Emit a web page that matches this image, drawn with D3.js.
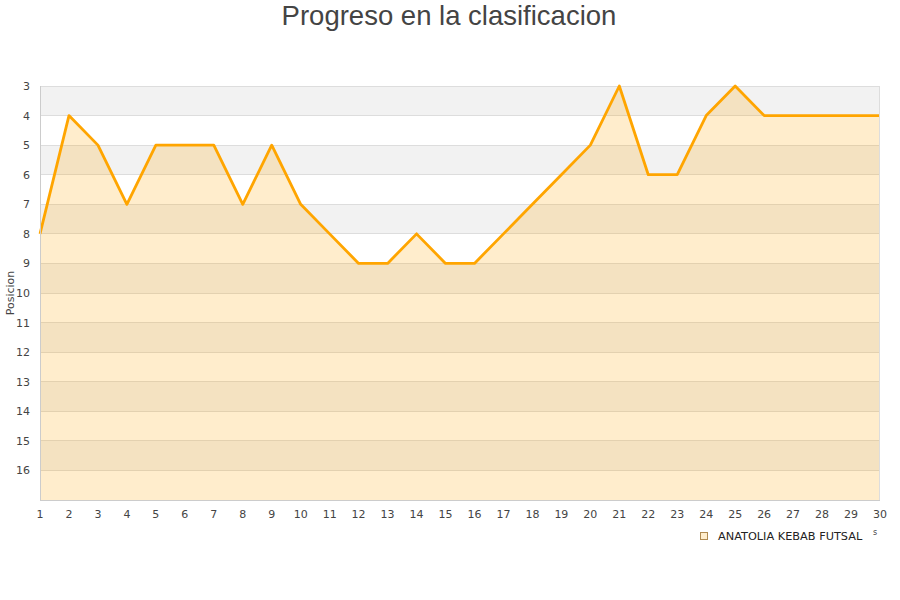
<!DOCTYPE html>
<html><head><meta charset="utf-8">
<script src="https://cdn.jsdelivr.net/npm/d3@7"></script>
<style>body{margin:0;background:#fff}svg{display:block}</style>
</head><body>
<svg id="c" width="900" height="600"></svg>
<script>
const jornadas = d3.range(1, 31);
const posiciones = [8,4,5,7,5,5,5,7,5,7,8,9,9,8,9,9,8,7,6,5,3,6,6,4,3,4,4,4,4,4];
const yTicks = d3.range(3, 17);
const seriesName = "ANATOLIA KEBAB FUTSAL";
const title = "Progreso en la clasificacion";
const yLabel = "Posicion";

const svg = d3.select("#c");
const m = {l:40, r:880, t:86, b:500};
const x = d3.scaleLinear().domain([1,30]).range([m.l, m.r]);
const y = d3.scaleLinear().domain([3,17]).range([m.t, m.b]);

// bands
const bands = d3.range(3, 17);
svg.append("g").selectAll("rect").data(bands).join("rect")
  .attr("x", m.l).attr("width", m.r-m.l)
  .attr("y", d=>y(d)).attr("height", d=>y(d+1)-y(d))
  .attr("fill", d=> (d-3)%2===0 ? "#f2f2f2" : "#ffffff");
// grid
svg.append("g").selectAll("line").data(d3.range(3,18)).join("line")
  .attr("x1", m.l).attr("x2", m.r).attr("y1", d=>y(d)).attr("y2", d=>y(d))
  .attr("stroke", "#dddddd").attr("stroke-width", 1).attr("shape-rendering","crispEdges");

// area
const pts = jornadas.map((j,i)=>[j, posiciones[i]]);
svg.append("path").datum(pts)
  .attr("d", d3.area().x(d=>x(d[0])).y0(y(17)).y1(d=>y(d[1])))
  .attr("fill", "rgba(255,165,0,0.2)");
svg.append("path").datum(pts)
  .attr("d", d3.line().x(d=>x(d[0])).y(d=>y(d[1])))
  .attr("fill", "none").attr("stroke", "#ffa500").attr("stroke-width", 2.8).attr("stroke-linejoin","round");

// axes lines
svg.append("line").attr("x1", m.l+0.5).attr("x2", m.l+0.5).attr("y1", m.t).attr("y2", m.b)
  .attr("stroke", "#cccccc");
svg.append("line").attr("x1", m.r-0.5).attr("x2", m.r-0.5).attr("y1", m.t).attr("y2", m.b)
  .attr("stroke", "#dddddd");
svg.append("line").attr("x1", m.l).attr("x2", m.r).attr("y1", m.b+0.5).attr("y2", m.b+0.5)
  .attr("stroke", "#cccccc");

const font = "DejaVu Sans, sans-serif";
// y tick labels
svg.append("g").selectAll("text").data(yTicks).join("text")
  .attr("x", 30).attr("y", d=>y(d)+4).attr("text-anchor","end")
  .attr("font-family", font).attr("font-size", 11).attr("fill", "#444")
  .text(d=>d);
// x tick labels
svg.append("g").selectAll("text").data(jornadas).join("text")
  .attr("x", d=>x(d)).attr("y", 518).attr("text-anchor","middle")
  .attr("font-family", font).attr("font-size", 11).attr("fill", "#444")
  .text(d=>d);

// y label
svg.append("text").attr("transform","translate(14,293) rotate(-90)")
  .attr("text-anchor","middle").attr("font-family", font).attr("font-size", 11).attr("fill","#444")
  .text(yLabel);

// title
svg.append("text").attr("x", 449).attr("y", 25).attr("text-anchor","middle")
  .attr("font-family","Liberation Sans, Arial, sans-serif").attr("font-size", 27.5).attr("fill","#444")
  .text(title);

// legend
svg.append("rect").attr("x", 700.5).attr("y", 532.5).attr("width", 7).attr("height", 7)
  .attr("fill", "rgba(255,165,0,0.2)").attr("stroke", "#b08a50").attr("stroke-width", 1);
svg.append("text").attr("x", 718).attr("y", 540).attr("font-family", font).attr("font-size", 11.3)
  .attr("fill","#222").text(seriesName);
svg.append("text").attr("x", 873).attr("y", 535).attr("font-family", font).attr("font-size", 8)
  .attr("fill","#444").text("s");
</script>
</body></html>
